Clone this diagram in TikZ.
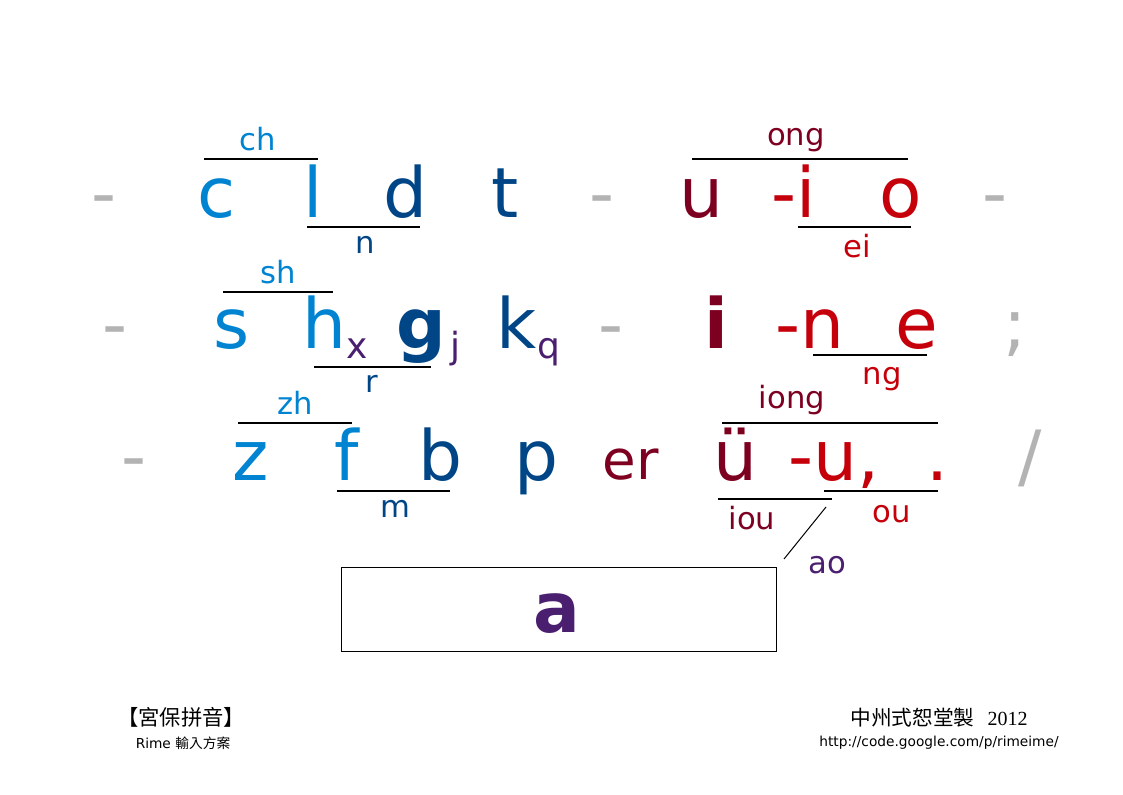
\documentclass[tikz,border=0pt]{standalone}
\usepackage{fontspec}
\setmainfont{DejaVu Sans}
\newfontfamily\cjk{Noto Sans CJK TC}
\newfontfamily\yearfont{Liberation Serif}
\definecolor{lblue}{HTML}{0084D1}
\definecolor{dblue}{HTML}{004586}
\definecolor{dred}{HTML}{7E0021}
\definecolor{lred}{HTML}{C5000B}
\definecolor{vio}{HTML}{4B1F6F}
\definecolor{grey}{HTML}{B3B3B3}
\begin{document}
\begin{tikzpicture}[x=0.75pt,y=-0.75pt,key/.style={font=\fontsize{52}{60}\selectfont, anchor=base, inner sep=0pt},keyb/.style={key, font=\fontsize{52}{60}\selectfont\bfseries},lab/.style={font=\fontsize{23}{28}\selectfont, anchor=base, inner sep=0pt},sub/.style={font=\fontsize{27}{32}\selectfont, anchor=base, inner sep=0pt},bar/.style={line width=0.9pt},foot/.style={anchor=base, inner sep=0pt}]
\useasboundingbox (0,0) rectangle (1123,794);
% top row
\node[key, grey] (da1) at (104,217) {-}; \node[key, lblue] (c) at (217,217) {c}; \node[key, lblue] (l) at (313,217) {l}; \node[key, dblue] (d) at (405,217) {d}; \node[key, dblue] (t) at (505,217) {t};
\node[key, grey] (da2) at (602,217) {-}; \node[key, dred] (u) at (701,217) {u}; \node[key, lred] (mi) at (794,217) {-i}; \node[key, lred] (o) at (901,217) {o}; \node[key, grey] (da3) at (995,217) {-};
\draw[bar] (204,159) -- (318,159); \node[lab, lblue] (ch) at (258,150) {ch};
\draw[bar] (307,227) -- (420,227); \node[lab, dblue] (n) at (365,253) {n};
\draw[bar] (692,159) -- (908,159); \node[lab, dred] (ong) at (796,145) {ong};
\draw[bar] (798,227) -- (911,227); \node[lab, lred] (ei) at (857,257) {ei};
% middle row
\node[key, grey] (da4) at (115,348) {-}; \node[key, lblue] (s) at (232,348) {s}; \node[key, lblue] (h) at (324,348) {h}; \node[sub, vio] (x) at (357,358) {x};
\node[keyb, dblue] (g) at (421,348) {g}; \node[sub, vio] (j) at (455,358) {j}; \node[key, dblue] (k) at (517,348) {k}; \node[sub, vio] (q) at (549,358) {q};
\node[key, grey] (da5) at (611,348) {-}; \node[keyb, dred] (i) at (716,348) {i}; \node[key, lred] (mn) at (810,348) {-n}; \node[key, lred] (e) at (917,348) {e}; \node[key, grey] (semi) at (1015,348) {;};
\draw[bar] (223,292) -- (333,292); \node[lab, lblue] (sh) at (278,283) {sh};
\draw[bar] (314,367) -- (431,367); \node[lab, dblue] (r) at (372,392) {r};
\draw[bar] (813,355) -- (927,355); \node[lab, lred] (ng) at (882,384) {ng};
% bottom row
\node[key, grey] (da6) at (134,480) {-}; \node[key, lblue] (z) at (251,480) {z}; \node[key, lblue] (f) at (347,480) {f}; \node[key, dblue] (b) at (440,480) {b}; \node[key, dblue] (p) at (536,480) {p};
\node[key, dred, font=\fontsize{41}{48}\selectfont] (er) at (631,479) {er}; \node[key, dred] (uu) at (735,480) {ü}; \node[key, lred] (mu) at (834,480) {-u,}; \node[key, lred] (dot) at (938,480) {.}; \node[key, grey] (slash) at (1030,480) {/};
\draw[bar] (238,423) -- (352,423); \node[lab, lblue] (zh) at (295,414) {zh};
\draw[bar] (337,491) -- (450,491); \node[lab, dblue] (m) at (395,517) {m};
\draw[bar] (722,423) -- (938,423); \node[lab, dred] (iong) at (792,408) {iong};
\draw[bar] (718,499) -- (832,499); \node[lab, dred] (iou) at (752,529) {iou};
\draw[bar] (824,491) -- (938,491); \node[lab, lred] (ou) at (892,522) {ou};
\draw[line width=0.75pt] (826,507) -- (784,559); \node[lab, vio] (ao) at (827,573) {ao};
% space bar
\draw[line width=0.75pt] (341,567) rectangle (776,651); \node[keyb, vio] (a) at (557,632) {a};
% footer
\node[foot] (title) at (181,725) {\cjk\fontsize{16}{18}\selectfont 【宮保拼音】};
\node[foot] (rime) at (183,748) {\fontsize{10.3}{12}\selectfont Rime {\cjk 輸入方案}};
\node[foot] (maker) at (939,725) {\cjk\fontsize{15.5}{18}\selectfont 中州式恕堂製\hspace{10pt}{\yearfont\fontsize{15}{18}\selectfont 2012}};
\node[foot] (url) at (939,746) {\fontsize{10.3}{12}\selectfont http://code.google.com/p/rimeime/};
\end{tikzpicture}
\end{document}
